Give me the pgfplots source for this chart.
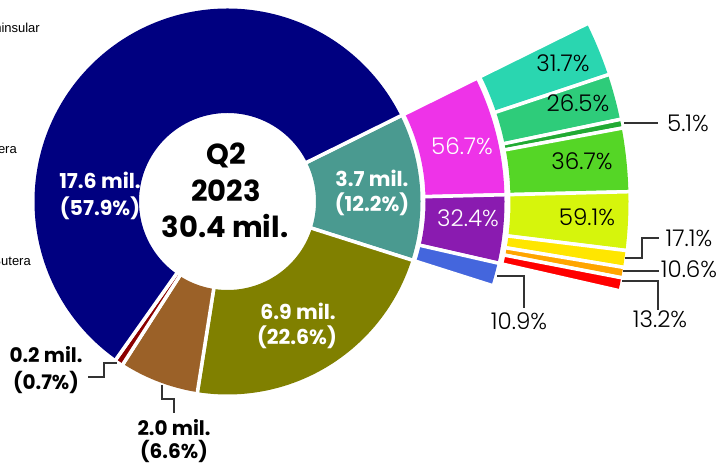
\documentclass[border=0pt]{standalone}
\usepackage{fontspec}
\setmainfont{Poppins}
\newfontfamily\lightfont{Poppins Light}
\newfontfamily\arialfont{Liberation Sans}
\usepackage{pgfplots}
\pgfplotsset{compat=1.18}

\definecolor{navyc}{HTML}{000080}
\definecolor{tealc}{HTML}{4A9A90}
\definecolor{olivec}{HTML}{808000}
\definecolor{brownc}{HTML}{9B6128}
\definecolor{darkredc}{HTML}{8B0000}
\definecolor{magentac}{HTML}{EE33E8}
\definecolor{purplec}{HTML}{8A1BB0}
\definecolor{bluec}{HTML}{4466DD}
\definecolor{cA}{HTML}{2AD6B0}
\definecolor{cB}{HTML}{2ECC7A}
\definecolor{cC}{HTML}{22AA33}
\definecolor{cD}{HTML}{55D626}
\definecolor{cE}{HTML}{D6F50C}
\definecolor{cF}{HTML}{FFE600}
\definecolor{cG}{HTML}{FFA500}
\definecolor{cH}{HTML}{FF0000}
\definecolor{leadc}{HTML}{333333}

% #1 share (%) of parent, #2 parent span (deg), #3 inner radius, #4 outer radius, #5 colour
\newcommand\seg[5]{%
  \pgfmathsetmacro\segspan{(#1/100)*#2}%
  \pgfmathsetmacro\segend{\cur-\segspan}%
  \pgfmathsetmacro\rmid{(#3+#4)/2}%
  \pgfmathsetmacro\rw{#4-#3}%
  \pgfmathtruncatemacro\ns{2*\segspan+3}%
  \pgfmathsetmacro\ra{#3-1}%
  \pgfmathsetmacro\rb{#4+1}%
  \edef\temp{%
    \noexpand\addplot[data cs=polar, domain=\segend:\cur, samples=\ns, line width=\rw pt, draw=#5, line cap=butt, line join=round, no marks] ({x},{\rmid});
    \noexpand\addplot[data cs=polar, white, line width=3.5pt, no marks] coordinates {(\cur,\ra) (\cur,\rb)};
    \noexpand\addplot[data cs=polar, white, line width=3.5pt, no marks] coordinates {(\segend,\ra) (\segend,\rb)};
  }\temp
  \xdef\cur{\segend}%
}

\begin{document}
\begin{tikzpicture}
\begin{axis}[x=1pt, y=1pt, xmin=-227.5, xmax=491.5, ymin=-263.5, ymax=201.5,
  hide axis, clip=false]
% ring 1 (share of total, %)
\xdef\cur{26.3}
\seg{12.2}{360}{88.5}{193}{tealc}
\seg{22.6}{360}{88.5}{193}{olivec}
\seg{6.6}{360}{88.5}{193}{brownc}
\seg{0.7}{360}{88.5}{193}{darkredc}
\seg{57.9}{360}{88.5}{193}{navyc}
% ring 2 (share of 12.2% segment)
\pgfmathsetmacro\tealspan{12.2*3.6}
\xdef\cur{26.3}
\seg{56.7}{\tealspan}{198}{277}{magentac}
\seg{32.4}{\tealspan}{198}{277}{purplec}
\seg{10.9}{\tealspan}{198}{277}{bluec}
% ring 3
\pgfmathsetmacro\magspan{56.7*\tealspan/100}
\pgfmathsetmacro\purspan{32.4*\tealspan/100}
\xdef\cur{26.3}
\seg{31.7}{\magspan}{283}{401}{cA}
\seg{26.5}{\magspan}{283}{401}{cB}
\seg{5.1}{\magspan}{283}{401}{cC}
\seg{36.7}{\magspan}{283}{401}{cD}
\seg{59.1}{\purspan}{283}{401}{cE}
\seg{17.1}{\purspan}{283}{401}{cF}
\seg{10.6}{\purspan}{283}{401}{cG}
\seg{13.2}{\purspan}{283}{401}{cH}

% leader lines
\addplot[leadc, line width=1.2pt, no marks] coordinates {(-110.5,-161.5) (-123.5,-161.5) (-123.5,-175.5) (-139.5,-175.5)};
\addplot[leadc, line width=1.2pt, no marks] coordinates {(-65.5,-183.5) (-65.5,-197.5) (-53.5,-197.5) (-53.5,-211.5)};
\addplot[leadc, line width=1.2pt, no marks] coordinates {(396.5,78.5) (430.5,78.5)};
\addplot[leadc, line width=1.2pt, no marks] coordinates {(397.5,-56.5) (414.5,-56.5) (414.5,-36.5) (431.5,-36.5)};
\addplot[leadc, line width=1.2pt, no marks] coordinates {(395.5,-69.5) (431.5,-69.5)};
\addplot[leadc, line width=1.2pt, no marks] coordinates {(394.5,-79.5) (430.5,-79.5) (430.5,-108.5)};
\addplot[leadc, line width=1.2pt, no marks] coordinates {(269.5,-74.5) (296.5,-74.5) (296.5,-106.5)};

% centre text
\begin{scope}[every node/.style={inner sep=0pt, anchor=base}]
\node[font=\fontsize{29}{30}\selectfont\bfseries] at (axis cs:-1.5,36.5) {Q2};
\node[font=\fontsize{29}{30}\selectfont\bfseries] at (axis cs:-1.5,-0.5) {2023};
\node[font=\fontsize{29}{30}\selectfont\bfseries] at (axis cs:-2.5,-36.5) {30.4 mil.};
% ring 1 labels
\node[white, font=\fontsize{20.5}{21}\selectfont\bfseries] at (axis cs:-127.5,12.5) {17.6 mil.};
\node[white, font=\fontsize{20.5}{21}\selectfont\bfseries] at (axis cs:-127.5,-14.5) {(57.9\%)};
\node[white, font=\fontsize{20.5}{21}\selectfont\bfseries] at (axis cs:144.5,14.5) {3.7 mil.};
\node[white, font=\fontsize{20.5}{21}\selectfont\bfseries] at (axis cs:144.5,-10.5) {(12.2\%)};
\node[white, font=\fontsize{20.5}{21}\selectfont\bfseries] at (axis cs:70.5,-118.5) {6.9 mil.};
\node[white, font=\fontsize{20.5}{21}\selectfont\bfseries] at (axis cs:69.5,-143.5) {(22.6\%)};
\node[black, font=\fontsize{20}{21}\selectfont\bfseries] at (axis cs:-181.5,-161.5) {0.2 mil.};
\node[black, font=\fontsize{20}{21}\selectfont\bfseries] at (axis cs:-181.5,-188.5) {(0.7\%)};
\node[black, font=\fontsize{20}{21}\selectfont\bfseries] at (axis cs:-53.5,-234.5) {2.0 mil.};
\node[black, font=\fontsize{20}{21}\selectfont\bfseries] at (axis cs:-53.5,-257) {(6.6\%)};
% ring 2/3 labels
\node[black, font=\fontsize{23}{24}\lightfont] at (axis cs:335.5,129.5) {31.7\%};
\node[black, font=\fontsize{23}{24}\lightfont] at (axis cs:350.5,89.5) {26.5\%};
\node[white, font=\fontsize{23}{24}\lightfont] at (axis cs:234.5,46.5) {56.7\%};
\node[black, font=\fontsize{23}{24}\lightfont] at (axis cs:354.5,31.5) {36.7\%};
\node[white, font=\fontsize{23}{24}\lightfont] at (axis cs:240.5,-25.5) {32.4\%};
\node[black, font=\fontsize{23}{24}\lightfont] at (axis cs:359.5,-24.5) {59.1\%};
\node[black, font=\fontsize{23}{24}\lightfont] at (axis cs:460.5,69.5) {5.1\%};
\node[black, font=\fontsize{23}{24}\lightfont] at (axis cs:461.5,-45.5) {17.1\%};
\node[black, font=\fontsize{23}{24}\lightfont] at (axis cs:461.5,-76.5) {10.6\%};
\node[black, font=\fontsize{23}{24}\lightfont] at (axis cs:432.5,-126.5) {13.2\%};
\node[black, font=\fontsize{23}{24}\lightfont] at (axis cs:291.5,-128.5) {10.9\%};
% clipped legend-like texts at the left edge
\node[anchor=base east, font=\fontsize{13}{14}\arialfont] at (axis cs:-187.5,168.5) {Peninsular};
\node[anchor=base east, font=\fontsize{13}{14}\arialfont] at (axis cs:-210.5,47.5) {Costera};
\node[anchor=base east, font=\fontsize{13}{14}\arialfont] at (axis cs:-196.5,-64.5) {Sutera};
\end{scope}
\end{axis}
\pgfresetboundingbox
\path[use as bounding box] (current axis.south west) rectangle (current axis.north east);
\end{tikzpicture}
\end{document}
